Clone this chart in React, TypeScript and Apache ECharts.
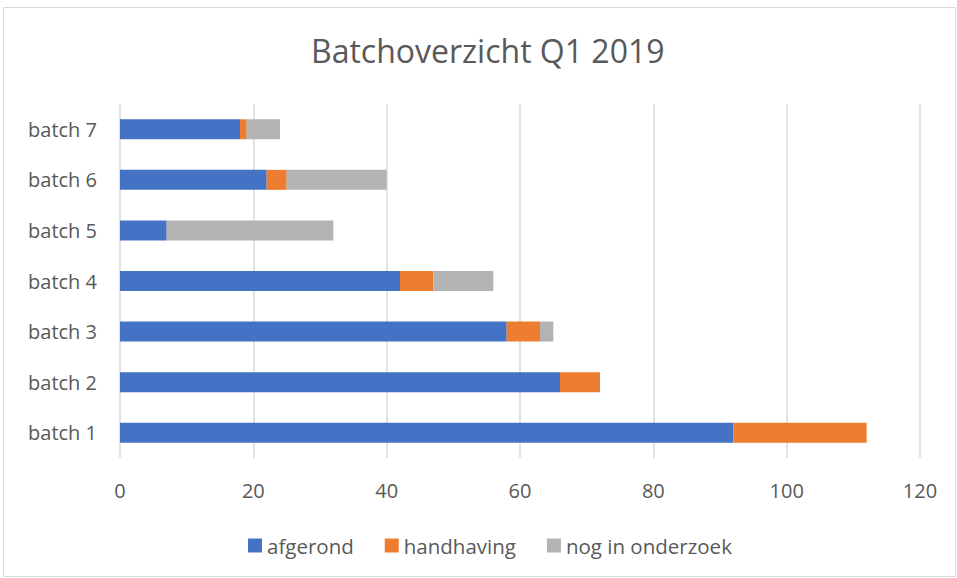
import React, { useEffect, useRef } from "react";
import * as echarts from "echarts";

const categories = ["batch 1", "batch 2", "batch 3", "batch 4", "batch 5", "batch 6", "batch 7"];
const afgerond = [92, 66, 58, 42, 7, 22, 18];
const handhaving = [20, 6, 5, 5, 0, 3, 1];
const nogInOnderzoek = [0, 0, 2, 9, 25, 15, 5];
const xTicks = [0, 20, 40, 60, 80, 100, 120];

const FONT = "'Open Sans', 'Noto Sans', sans-serif";
const TEXT = "#595959";

export default function App() {
  const ref = useRef<HTMLDivElement>(null);
  useEffect(() => {
    const chart = echarts.init(ref.current!, null, { renderer: "svg" });
    const mk = (name: string, data: number[], color: string) => ({
      name,
      type: "bar",
      stack: "total",
      data,
      barWidth: 20,
      itemStyle: { color },
      emphasis: { disabled: true },
    });
    chart.setOption({
      animation: false,
      backgroundColor: "#ffffff",
      textStyle: { fontFamily: FONT },
      title: {
        text: "Batchoverzicht Q1 2019",
        left: 306,
        top: 29,
        textStyle: { fontFamily: FONT, fontSize: 32, fontWeight: "normal", color: TEXT },
      },
      graphic: [
        {
          type: "rect",
          shape: { x: 3.5, y: 7.5, width: 952, height: 569 },
          style: { fill: "none", stroke: "#d9d9d9", lineWidth: 1 },
          silent: true,
        },
      ],
      legend: {
        bottom: 17,
        left: 243,
        itemWidth: 14,
        itemHeight: 14,
        itemGap: 31,
        icon: "rect",
        textStyle: { fontFamily: FONT, fontSize: 20.5, color: TEXT },
        data: ["afgerond", "handhaving", "nog in onderzoek"],
      },
      grid: { left: 120, right: 37, top: 104, bottom: 120, containLabel: false },
      xAxis: {
        type: "value",
        min: 0,
        max: 120,
        interval: 20,
        axisLine: { show: false },
        axisTick: { show: false },
        splitLine: { show: true, lineStyle: { color: "#d9d9d9", width: 1.5 } },
        axisLabel: {
          fontFamily: FONT,
          fontSize: 20,
          color: TEXT,
          margin: 22,
          formatter: (v: number) => (xTicks.includes(v) ? String(v) : ""),
        },
      },
      yAxis: {
        type: "category",
        data: categories,
        axisLine: { show: false },
        axisTick: { show: false },
        axisLabel: { fontFamily: FONT, fontSize: 20, color: TEXT, margin: 23 },
      },
      series: [
        mk("afgerond", afgerond, "#4472C4"),
        mk("handhaving", handhaving, "#ED7D31"),
        mk("nog in onderzoek", nogInOnderzoek, "#B3B3B3"),
      ],
    });
    return () => chart.dispose();
  }, []);
  return (
    <div style={{ position: "fixed", left: 0, top: 0, width: 957, height: 578 }}>
      <div ref={ref} style={{ width: 957, height: 578 }} />
    </div>
  );
}
